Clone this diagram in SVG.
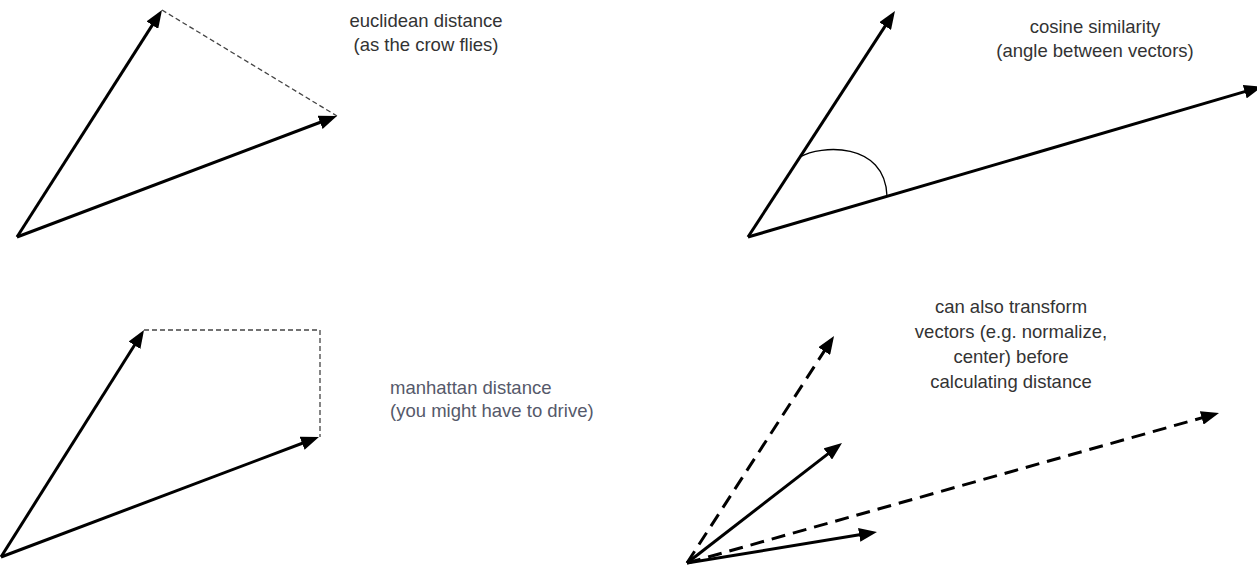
<svg xmlns="http://www.w3.org/2000/svg" width="1257" height="566" viewBox="0 0 1257 566">
  <style>
    .vec { stroke: #000; stroke-width: 3; fill: none; stroke-linecap: butt; marker-end: url(#ah); }
    .dvec { stroke: #000; stroke-width: 3; fill: none; stroke-dasharray: 14 8; marker-end: url(#ah); }
    .thin { stroke: #444; stroke-width: 1.3; fill: none; stroke-dasharray: 5 3; }
    .arc { stroke: #000; stroke-width: 1.3; fill: none; }
    .lbl { font-family: "Liberation Sans", Arial, Helvetica, sans-serif; font-size: 18.5px; fill: #333; }
    .lbl2 { font-family: "Liberation Sans", Arial, Helvetica, sans-serif; font-size: 18.5px; fill: #55596a; }
  </style>
  <defs>
    <marker id="ah" viewBox="0 0 18 14" refX="8" refY="7" markerWidth="18" markerHeight="14" markerUnits="userSpaceOnUse" orient="auto">
      <path d="M0,0 L18,7 L0,14 Z" fill="#000"/>
    </marker>
  </defs>
  <rect width="1257" height="566" fill="#fff"/>

  <g id="connectors">
    <!-- euclidean -->
    <path class="thin" d="M162,10 L337,116"/>
    <line class="vec" x1="17" y1="237" x2="156.6" y2="18.4"/>
    <line class="vec" x1="17" y1="237" x2="327.6" y2="119.5"/>
    <!-- cosine -->
    <line class="vec" x1="748" y1="237" x2="889.5" y2="19.4"/>
    <line class="vec" x1="748" y1="237" x2="1252.4" y2="89.4"/>
    <path class="arc" d="M800,157 C820,145 885,141 887,196"/>
    <!-- manhattan -->
    <path class="thin" d="M144,330 H320 V437"/>
    <line class="vec" x1="1" y1="557" x2="138.7" y2="338.5"/>
    <line class="vec" x1="1" y1="557" x2="309.6" y2="440.5"/>
    <!-- transform -->
    <line class="dvec" x1="687" y1="563" x2="828.6" y2="344.4"/>
    <line class="vec" x1="687" y1="563" x2="834.1" y2="449.1"/>
    <line class="dvec" x1="687" y1="563" x2="1209.4" y2="415.7"/>
    <line class="vec" x1="687" y1="563" x2="867.1" y2="533.6"/>
  </g>

  <g id="euclidean-label">
    <text class="lbl" text-anchor="middle" x="426" y="27">euclidean distance</text>
    <text class="lbl" text-anchor="middle" x="426" y="51">(as the crow flies)</text>
  </g>
  <g id="cosine-label">
    <text class="lbl" text-anchor="middle" x="1095" y="33">cosine similarity</text>
    <text class="lbl" text-anchor="middle" x="1095" y="57">(angle between vectors)</text>
  </g>
  <g id="manhattan-label">
    <text class="lbl2" x="390" y="394">manhattan distance</text>
    <text class="lbl2" x="390" y="417">(you might have to drive)</text>
  </g>
  <g id="transform-label">
    <text class="lbl" text-anchor="middle" x="1011" y="313">can also transform</text>
    <text class="lbl" text-anchor="middle" x="1011" y="338">vectors (e.g. normalize,</text>
    <text class="lbl" text-anchor="middle" x="1011" y="363">center) before</text>
    <text class="lbl" text-anchor="middle" x="1011" y="388">calculating distance</text>
  </g>
</svg>
